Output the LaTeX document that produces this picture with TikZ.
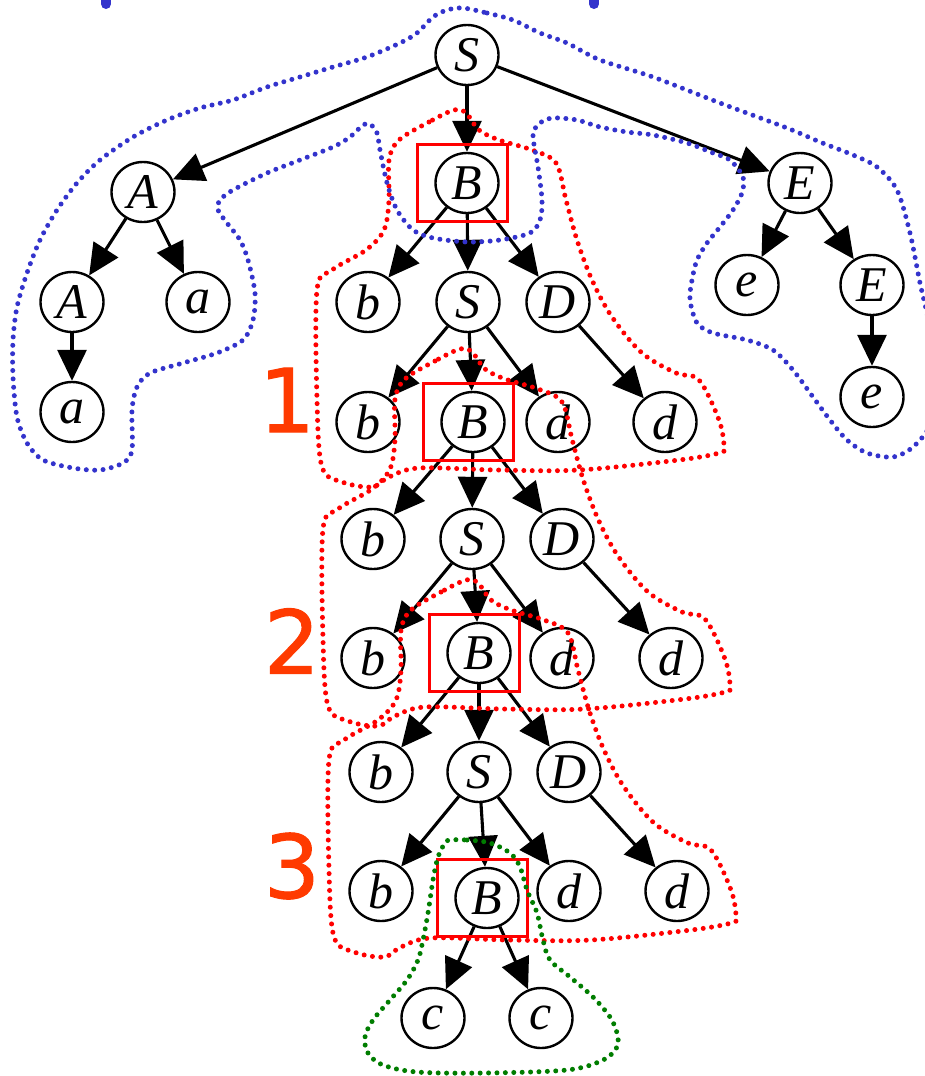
\documentclass[tikz,border=0pt]{standalone}
\usepackage{fontspec}
\setmainfont{Liberation Serif}
\newfontfamily\digitfont[FakeBold=1.2]{DejaVu Sans}
\usetikzlibrary{shapes.geometric,arrows.meta}
\definecolor{bluedot}{RGB}{51,51,204}
\definecolor{reddot}{RGB}{255,0,0}
\definecolor{greendot}{RGB}{0,125,0}
\definecolor{numcol}{RGB}{255,58,0}
\begin{document}
\begin{tikzpicture}[x=1pt,y=-1pt,
  nd/.style={draw, line width=2.4pt, ellipse, minimum width=63pt, minimum height=60pt, inner sep=0pt,
    font=\fontsize{50}{50}\selectfont\itshape},
  ed/.style={line width=3.1pt, -{Triangle[length=31pt,width=29pt]}},
  dotline/.style={line width=5pt, line cap=round, dash pattern=on 0pt off 8.4pt},
  bluedots/.style={dotline, draw=bluedot},
  reddots/.style={dotline, draw=reddot},
  greendots/.style={dotline, draw=greendot},
  redbox/.style={draw=reddot, line width=2.6pt},
  num/.style={text=numcol, inner sep=0pt, font=\digitfont\fontsize{88}{88}\selectfont}]
\useasboundingbox (0,0) rectangle (925,1076);

% blue tick marks at the top
\draw[bluedot, line width=10pt, line cap=round] (106,-8) -- (106,4);
\draw[bluedot, line width=10pt, line cap=round] (594,-8) -- (594,4);

% nodes
\node[nd] (S0) at (467,55) {S};
\node[nd] (A) at (143,192) {A};
\node[nd] (A2) at (72,302) {A};
\node[nd] (a1) at (198,302) {a};
\node[nd] (a2) at (72,412) {a};
\node[nd] (E) at (800,183) {E};
\node[nd] (e1) at (747,285) {e};
\node[nd] (E2) at (872,285) {E};
\node[nd] (e2) at (872,397) {e};

\node[nd] (B1) at (467,183) {B};
\node[nd] (b1) at (368,302) {b};
\node[nd] (S1) at (468,302) {S};
\node[nd] (D1) at (558,302) {D};
\node[nd] (b1b) at (368,422) {b};
\node[nd] (B2) at (473,422) {B};
\node[nd] (d1) at (558,422) {d};
\node[nd] (d1r) at (665,422) {d};

\node[nd] (b2) at (373,539) {b};
\node[nd] (S2) at (472,539) {S};
\node[nd] (D2) at (562,539) {D};
\node[nd] (b2b) at (373,658) {b};
\node[nd] (B3) at (479,653) {B};
\node[nd] (d2) at (562,658) {d};
\node[nd] (d2r) at (671,658) {d};

\node[nd] (b3) at (381,772) {b};
\node[nd] (S3) at (479,772) {S};
\node[nd] (D3) at (569,772) {D};
\node[nd] (b3b) at (381,891) {b};
\node[nd] (B4) at (487,898) {B};
\node[nd] (d3) at (569,891) {d};
\node[nd] (d3r) at (677,891) {d};

\node[nd] (c1) at (433,1018) {c};
\node[nd] (c2) at (541,1018) {c};

% numbers
\node[num] (n1) at (287,400) {1};
\node[num] (n2) at (292,641) {2};
\node[num] (n3) at (292,866) {3};

% edges
\draw[ed] (S0) -- (A);
\draw[ed] (S0) -- (B1);
\draw[ed] (S0) -- (E);
\draw[ed] (A) -- (A2);
\draw[ed] (A) -- (a1);
\draw[ed] (A2) -- (a2);
\draw[ed] (E) -- (e1);
\draw[ed] (E) -- (E2);
\draw[ed] (E2) -- (e2);

\draw[ed] (B1) -- (b1);
\draw[ed] (B1) -- (S1);
\draw[ed] (B1) -- (D1);
\draw[ed] (S1) -- (b1b);
\draw[ed] (S1) -- (B2);
\draw[ed] (S1) -- (d1);
\draw[ed] (D1) -- (d1r);

\draw[ed] (B2) -- (b2);
\draw[ed] (B2) -- (S2);
\draw[ed] (B2) -- (D2);
\draw[ed] (S2) -- (b2b);
\draw[ed] (S2) -- (B3);
\draw[ed] (S2) -- (d2);
\draw[ed] (D2) -- (d2r);

\draw[ed] (B3) -- (b3);
\draw[ed] (B3) -- (S3);
\draw[ed] (B3) -- (D3);
\draw[ed] (S3) -- (b3b);
\draw[ed] (S3) -- (B4);
\draw[ed] (S3) -- (d3);
\draw[ed] (D3) -- (d3r);

\draw[ed] (B4) -- (c1);
\draw[ed] (B4) -- (c2);

% red boxes
\foreach \nm in {B1,B2,B3,B4}{
  \draw[redbox] ([shift={(-49.5,-38.5)}]\nm.center) rectangle ([shift={(40.5,38.5)}]\nm.center);
}

% red loops
\foreach \nm in {B1,B2,B3}{
\begin{scope}[shift={(\nm.center)}]
\draw[reddots] plot[smooth cycle, tension=0.55] coordinates {
(-13,-73) (-38,-61) (-68,-43) (-78,-23) (-78,17) (-83,47) (-101,67) (-135,87) (-150,107)
(-150,217) (-145,284) (-125,299) (-95,304) (-78,294) (-48,285) (30,287) (112,287) (212,277)
(252,270) (257,264) (252,237) (232,197) (209,190) (175,170) (145,134) (125,97) (110,57)
(99,17) (89,-20) (65,-33) (32,-43) (12,-53) (-1,-70)};
\end{scope}
}

% blue loop
\draw[bluedots] plot[smooth cycle, tension=0.5] coordinates {
(463,8) (487,13) (513,20) (540,33) (567,43) (600,60) (653,77) (720,103) (787,128) (820,142)
(853,155) (877,167) (897,190) (910,233) (920,283) (930,330) (933,390) (930,425) (913,447)
(893,457) (867,453) (847,440) (830,420) (813,397) (793,370) (773,350) (747,340) (713,333)
(697,323) (690,300) (692,280) (697,260) (707,243) (720,227) (733,210) (742,193) (743,177)
(730,160) (713,153) (687,143) (653,135) (627,132) (600,127) (577,120) (553,118) (540,123)
(533,135) (538,167) (542,200) (540,220) (530,233) (500,240) (467,242) (433,238) (413,230)
(397,210) (387,183) (380,150) (377,133) (370,124) (363,125) (350,137) (333,147) (300,160)
(267,173) (233,190) (220,200) (218,210) (227,223) (240,240) (248,260) (255,293) (253,320)
(243,340) (217,353) (183,363) (150,373) (137,387) (132,410) (132,450) (123,463) (100,470)
(73,468) (43,460) (27,443) (17,417) (13,377) (13,340) (17,307) (27,273) (40,240) (57,210)
(77,183) (100,160) (133,137) (167,120) (200,108) (233,100) (267,87) (300,77) (333,67)
(367,57) (400,43) (417,33) (433,17) (447,10)};

% green loop
\draw[greendots] plot[smooth cycle, tension=0.55] coordinates {
(450,840) (467,840) (490,843) (510,853) (520,867) (527,890) (537,913) (543,940) (550,960)
(570,977) (593,997) (610,1017) (617,1033) (617,1047) (603,1060) (567,1070) (483,1073)
(417,1072) (383,1065) (368,1053) (365,1037) (373,1020) (390,1000) (407,980) (418,960)
(423,940) (428,913) (433,880) (438,857) (445,843)};
\end{tikzpicture}
\end{document}
